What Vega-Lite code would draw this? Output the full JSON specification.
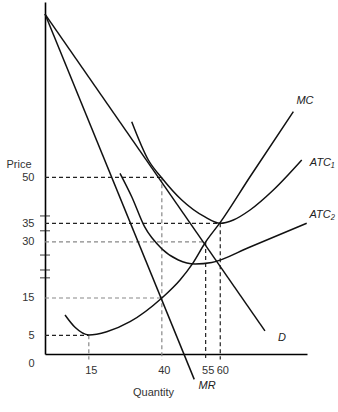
{
  "$schema": "https://vega.github.io/schema/vega-lite/v6.json",
  "width": 262,
  "height": 354,
  "autosize": "none",
  "padding": {"left": 45, "top": 0, "right": 31, "bottom": 58},
  "background": "white",
  "config": {"view": {"stroke": null}},
  "datasets": {
    "curves": [
      {"s": "D", "x": 0, "y": 91.9},
      {"s": "D", "x": 75.3, "y": 6.2},
      {"s": "MR", "x": 0, "y": 91.9},
      {"s": "MR", "x": 51.1, "y": -6.8},
      {"s": "MC", "x": 6.85, "y": 10.44},
      {"s": "MC", "x": 10.27, "y": 7.15},
      {"s": "MC", "x": 15, "y": 5.1},
      {"s": "MC", "x": 21.13, "y": 5.97},
      {"s": "MC", "x": 29.11, "y": 8.65},
      {"s": "MC", "x": 40, "y": 15},
      {"s": "MC", "x": 46.23, "y": 19.82},
      {"s": "MC", "x": 50.34, "y": 24},
      {"s": "MC", "x": 55, "y": 30},
      {"s": "MC", "x": 60, "y": 35.3},
      {"s": "MC", "x": 70.2, "y": 50.15},
      {"s": "MC", "x": 85.03, "y": 66.84},
      {"s": "ATC1", "x": 29.69, "y": 64.27},
      {"s": "ATC1", "x": 35.38, "y": 54.44},
      {"s": "ATC1", "x": 40, "y": 49.8},
      {"s": "ATC1", "x": 46.82, "y": 42.6},
      {"s": "ATC1", "x": 54.62, "y": 37.15},
      {"s": "ATC1", "x": 60, "y": 35},
      {"s": "ATC1", "x": 64.49, "y": 36.08},
      {"s": "ATC1", "x": 70.2, "y": 39.34},
      {"s": "ATC1", "x": 78.18, "y": 45.86},
      {"s": "ATC1", "x": 87.9, "y": 54.44},
      {"s": "ATC2", "x": 25.68, "y": 51.03},
      {"s": "ATC2", "x": 29.69, "y": 43.67},
      {"s": "ATC2", "x": 34.08, "y": 34.09},
      {"s": "ATC2", "x": 39.97, "y": 28.2},
      {"s": "ATC2", "x": 45.65, "y": 25.17},
      {"s": "ATC2", "x": 51.37, "y": 24.1},
      {"s": "ATC2", "x": 57.09, "y": 24.5},
      {"s": "ATC2", "x": 70.2, "y": 28.66},
      {"s": "ATC2", "x": 89.6, "y": 35.0}
    ],
    "guides": [
      {"x": 0, "y": 50, "x2": 40, "y2": 50, "tone": "dark"},
      {"x": 40, "y": 50, "x2": 40, "y2": -1.5, "tone": "gray"},
      {"x": 0, "y": 35, "x2": 60, "y2": 35, "tone": "dark"},
      {"x": 60, "y": 35, "x2": 60, "y2": -1.5, "tone": "dark"},
      {"x": 0, "y": 30, "x2": 55, "y2": 30, "tone": "gray"},
      {"x": 55, "y": 30, "x2": 55, "y2": -1.5, "tone": "dark"},
      {"x": 0, "y": 15, "x2": 40, "y2": 15, "tone": "gray"},
      {"x": 0, "y": 5, "x2": 15, "y2": 5, "tone": "dark"},
      {"x": 15, "y": 5, "x2": 15, "y2": -1.5, "tone": "gray"}
    ],
    "ticks": [
      {"x": 0, "y": 37.4},
      {"x": 0, "y": 33.0},
      {"x": 0, "y": 26.5},
      {"x": 0, "y": 22.5},
      {"x": 0, "y": 20.4}
    ],
    "labels": [
      {"label": "MC", "x": 89, "y": 69.7},
      {"label": "ATC₁", "x": 94.9, "y": 53.7},
      {"label": "ATC₂", "x": 94.9, "y": 37.7},
      {"label": "D", "x": 81.1, "y": 4.2},
      {"label": "MR", "x": 55.5, "y": -8.6}
    ]
  },
  "encoding": {
    "x": {
      "field": "x",
      "type": "quantitative",
      "scale": {"domain": [0, 89.7], "nice": false, "zero": false},
      "axis": {
        "values": [15, 40, 55, 60],
        "ticks": false,
        "grid": false,
        "domainColor": "#000",
        "domainWidth": 1.6,
        "labelFont": "Liberation Sans",
        "labelFontSize": 11,
        "labelColor": "#333",
        "labelPadding": 10,
        "labelOffset": 2,
        "title": "Quantity",
        "titleFont": "Liberation Sans",
        "titleFontSize": 11,
        "titleFontWeight": "normal",
        "titleColor": "#333",
        "titleX": 108,
        "titleY": 38,
        "titleBaseline": "middle",
        "titleAlign": "center"
      }
    },
    "y": {
      "field": "y",
      "type": "quantitative",
      "scale": {"domain": [0, 35, 50, 95], "range": [354, 223.3, 177.3, 2], "nice": false, "zero": false},
      "axis": {
        "values": [0, 5, 15, 30, 35, 50],
        "ticks": false,
        "grid": false,
        "domainColor": "#000",
        "domainWidth": 1.6,
        "labelFont": "Liberation Sans",
        "labelFontSize": 11,
        "labelColor": "#333",
        "labelPadding": 11,
        "labelOffset": {"condition": {"test": "datum.value == 0", "value": 9}, "value": 0},
        "title": "Price",
        "titleFont": "Liberation Sans",
        "titleFontSize": 11,
        "titleFontWeight": "normal",
        "titleColor": "#333",
        "titleAngle": 0,
        "titleAlign": "right",
        "titleBaseline": "middle",
        "titleX": -14,
        "titleY": 164
      }
    }
  },
  "layer": [
    {
      "data": {"name": "guides"},
      "mark": {"type": "rule", "strokeDash": [4, 3], "strokeWidth": 1.2, "clip": false},
      "encoding": {
        "x2": {"field": "x2"},
        "y2": {"field": "y2"},
        "color": {"field": "tone", "type": "nominal", "scale": {"domain": ["dark", "gray"], "range": ["#222222", "#888888"]}, "legend": null}
      }
    },
    {
      "data": {"name": "curves"},
      "mark": {"type": "line", "interpolate": "monotone", "color": "#111", "strokeWidth": 1.5, "clip": false},
      "encoding": {
        "detail": {"field": "s", "type": "nominal"}
      }
    },
    {
      "data": {"name": "ticks"},
      "mark": {"type": "tick", "orient": "horizontal", "color": "#111", "size": 10, "thickness": 1.2, "clip": false},
      "encoding": {}
    },
    {
      "data": {"name": "labels"},
      "mark": {"type": "text", "font": "Liberation Sans", "fontSize": 11, "fontStyle": "italic", "color": "#222", "align": "center", "baseline": "middle", "clip": false},
      "encoding": {
        "text": {"field": "label", "type": "nominal"}
      }
    }
  ]
}
